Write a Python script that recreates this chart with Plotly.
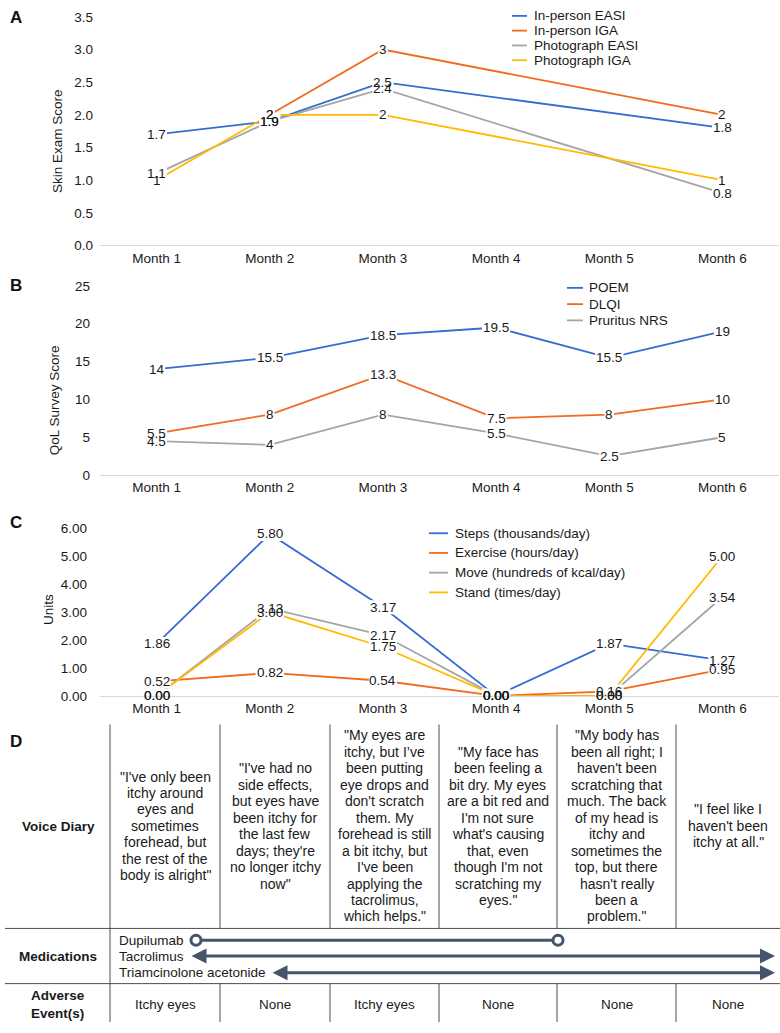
import plotly.graph_objects as go

W, H = 780, 1033
FONT = "Liberation Sans, Arial, Helvetica, sans-serif"
TXT = "#1a1a1a"

months = ["Month 1", "Month 2", "Month 3", "Month 4", "Month 5", "Month 6"]

# Panel A - skin exam scores
a_names = ["In-person EASI", "In-person IGA", "Photograph EASI", "Photograph IGA"]
a_inperson_easi = [1.7, 1.9, 2.5, None, None, 1.8]
a_inperson_iga = [None, 2, 3, None, None, 2]
a_photo_easi = [1.1, 1.9, 2.4, None, None, 0.8]
a_photo_iga = [1, 2, 2, None, None, 1]

# Panel B - QoL survey scores
b_names = ["POEM", "DLQI", "Pruritus NRS"]
b_poem = [14, 15.5, 18.5, 19.5, 15.5, 19]
b_dlqi = [5.5, 8, 13.3, 7.5, 8, 10]
b_nrs = [4.5, 4, 8, 5.5, 2.5, 5]

# Panel C - activity
c_names = ["Steps (thousands/day)", "Exercise (hours/day)",
           "Move (hundreds of kcal/day)", "Stand (times/day)"]
c_steps = [1.86, 5.80, 3.17, 0.00, 1.87, 1.27]
c_exercise = [0.52, 0.82, 0.54, 0.00, 0.16, 0.95]
c_move = [0.00, 3.13, 2.17, 0.00, 0.00, 3.54]
c_stand = [0.00, 3.00, 1.75, 0.00, 0.00, 5.00]

# Panel D - table
row_labels = ["Voice Diary", "Medications", "Adverse<br>Event(s)"]
voice_diary = [
    "\"I've only been<br>itchy around<br>eyes and<br>sometimes<br>forehead, but<br>the rest of the<br>body is alright\"",
    "\"I've had no<br>side effects,<br>but eyes have<br>been itchy for<br>the last few<br>days; they're<br>no longer itchy<br>now\"",
    "\"My eyes are<br>itchy, but I\u2019ve<br>been putting<br>eye drops and<br>don't scratch<br>them. My<br>forehead is still<br>a bit itchy, but<br>I've been<br>applying the<br>tacrolimus,<br>which helps.\"",
    "\"My face has<br>been feeling a<br>bit dry. My eyes<br>are a bit red and<br>I'm not sure<br>what's causing<br>that, even<br>though I'm not<br>scratching my<br>eyes.\"",
    "\"My body has<br>been all right; I<br>haven't been<br>scratching that<br>much. The back<br>of my head is<br>itchy and<br>sometimes the<br>top, but there<br>hasn't really<br>been a<br>problem.\"",
    "\"I feel like I<br>haven't been<br>itchy at all.\"",
]
medications = ["Dupilumab", "Tacrolimus", "Triamcinolone acetonide"]
adverse_events = ["Itchy eyes", "None", "Itchy eyes", "None", "None", "None"]

colors = ["#356CD3", "#F26A1E", "#A5A5A5", "#FFBB00"]
DARK = "#44546A"
GRID = "#4d4d4d"
FS = 13.5


def px(x):
    return x / W


def py(y):
    return 1 - y / H


fig = go.Figure()
label_bgs = []
label_txt = []
annotations = []
shapes = []


def fmt_plain(v):
    return ("%g" % v)


def fmt2(v):
    return "%.2f" % v


def text_width(s):
    # approximate Liberation Sans advance widths
    w = 0.0
    for ch in s:
        w += 0.278 if ch == "." else 0.556
    return w * FS


def add_panel(series, names, xa, ya, fmt):
    for i, (vals, name) in enumerate(zip(series, names)):
        fig.add_trace(go.Scatter(
            x=months, y=vals, name=name, mode="lines",
            line=dict(color=colors[i], width=1.8),
            connectgaps=True, showlegend=False,
            xaxis=xa, yaxis=ya, hoverinfo="skip"))
    for i, vals in enumerate(series):
        for m, v in zip(months, vals):
            if v is None:
                continue
            s = fmt(v)
            hw = text_width(s) / 2 + 1
            # white knock-out behind each label (hides the line under it)
            label_bgs.append(dict(type="rect", layer="above", xref=xa, yref=ya,
                                  xsizemode="pixel", ysizemode="pixel",
                                  xanchor=m, yanchor=v, x0=-hw, x1=hw, y0=-7, y1=7,
                                  fillcolor="white", line=dict(width=0)))
            label_txt.append(dict(x=m, y=v, xref=xa, yref=ya, text=s, showarrow=False,
                                  xanchor="center", yanchor="middle", borderpad=0,
                                  font=dict(size=FS, color=TXT, family=FONT)))


add_panel([a_inperson_easi, a_inperson_iga, a_photo_easi, a_photo_iga], a_names, "x", "y", fmt_plain)
add_panel([b_poem, b_dlqi, b_nrs], b_names, "x2", "y2", fmt_plain)
add_panel([c_steps, c_exercise, c_move, c_stand], c_names, "x3", "y3", fmt2)
shapes.extend(label_bgs)
annotations.extend(label_txt)


def manual_legend(names, x_line0, x_line1, x_text, y0, dy):
    for i, n in enumerate(names):
        yy = y0 + i * dy
        shapes.append(dict(type="line", xref="paper", yref="paper",
                           x0=px(x_line0), x1=px(x_line1), y0=py(yy), y1=py(yy),
                           line=dict(color=colors[i], width=1.8)))
        annotations.append(dict(x=px(x_text), y=py(yy), xref="paper", yref="paper",
                                text=n, showarrow=False, xanchor="left", yanchor="middle",
                                font=dict(size=FS, color=TXT, family=FONT)))


manual_legend(a_names, 512, 527, 532, 9, 15)
manual_legend(b_names, 567, 583, 587, 285, 16.5)
manual_legend(c_names, 429, 448, 453, 534, 20)

xdom = [px(100), px(779)]
axis_common = dict(showgrid=False, zeroline=False, ticks="",
                   tickfont=dict(size=FS, color=TXT, family=FONT))
xaxis_common = dict(axis_common, type="category", categoryorder="array",
                    categoryarray=months, range=[-0.5, 5.5], domain=xdom,
                    showline=True, linecolor="#d9d9d9", linewidth=1)

fig.update_layout(
    width=W, height=H, autosize=False,
    margin=dict(l=0, r=0, t=0, b=0),
    paper_bgcolor="white", plot_bgcolor="white",
    font=dict(family=FONT, color=TXT),
    xaxis=dict(xaxis_common, anchor="y"),
    xaxis2=dict(xaxis_common, anchor="y2"),
    xaxis3=dict(xaxis_common, anchor="y3"),
    yaxis=dict(axis_common, anchor="x", domain=[py(242), py(10)], range=[0, 3.5],
               dtick=0.5, tickformat=".1f", ticklabelstandoff=6),
    yaxis2=dict(axis_common, anchor="x2", domain=[py(475), py(283)], range=[0, 25],
                dtick=5, ticklabelstandoff=9),
    yaxis3=dict(axis_common, anchor="x3", domain=[py(699), py(529)], range=[0, 6],
                dtick=1, tickformat=".2f", ticklabelstandoff=12),
)

# Panel letters
for letter, yy in [("A", 11), ("B", 283), ("C", 523), ("D", 745)]:
    annotations.append(dict(x=px(8), y=py(yy), xref="paper", yref="paper", text="<b>%s</b>" % letter,
                            showarrow=False, xanchor="left", yanchor="middle",
                            font=dict(size=17, color="#111", family=FONT)))

# Y titles
for title, xx, yy in [("Skin Exam Score", 57, 136), ("QoL Survey Score", 54, 399), ("Units", 48, 612)]:
    annotations.append(dict(x=px(xx), y=py(yy), xref="paper", yref="paper", text=title,
                            showarrow=False, textangle=-90, xanchor="center", yanchor="middle",
                            font=dict(size=FS, color=TXT, family=FONT)))

# ---- Table (panel D) ----
col_edges = [110, 220, 330, 439, 557, 676, 780]
col_centers = [(col_edges[i] + col_edges[i + 1]) / 2 for i in range(6)]
top, mid1, mid2, bottom = 728, 935, 991, 1030


def hline(y, x0, x1):
    shapes.append(dict(type="line", xref="paper", yref="paper", x0=px(x0), x1=px(x1),
                       y0=py(y), y1=py(y), line=dict(color=GRID, width=1)))


def vline(x, y0, y1):
    shapes.append(dict(type="line", xref="paper", yref="paper", x0=px(x), x1=px(x),
                       y0=py(y0), y1=py(y1), line=dict(color=GRID, width=1)))


hline(mid1, 5, 780)
hline(mid2, 5, 780)
vline(col_edges[0], top, bottom)
for xe in col_edges[1:-1]:
    vline(xe, top, mid1)
    vline(xe, mid2, bottom)

# Row labels
for lab, yy in zip(row_labels, [832, 963, 1012]):
    annotations.append(dict(x=px(58), y=py(yy), xref="paper", yref="paper", text="<b>%s</b>" % lab,
                            showarrow=False, xanchor="center", yanchor="middle",
                            font=dict(size=FS, color=TXT, family=FONT)))

# Voice diary: one annotation per line for tight (16.7px) leading
LH = 16.7
for c, t in zip(col_centers, voice_diary):
    lines = t.split("<br>")
    n = len(lines)
    for k, ln in enumerate(lines):
        yy = 831 + (k - (n - 1) / 2) * LH
        annotations.append(dict(x=px(c), y=py(yy), xref="paper", yref="paper", text=ln,
                                showarrow=False, xanchor="center", yanchor="middle",
                                font=dict(size=14, color=TXT, family=FONT)))

for c, t in zip(col_centers, adverse_events):
    annotations.append(dict(x=px(c), y=py(1012), xref="paper", yref="paper", text=t,
                            showarrow=False, xanchor="center", yanchor="middle",
                            font=dict(size=FS, color=TXT, family=FONT)))

med_y = [947, 963, 980]
for t, yy in zip(medications, med_y):
    annotations.append(dict(x=px(117), y=py(yy), xref="paper", yref="paper", text=t,
                            showarrow=False, xanchor="left", yanchor="middle",
                            font=dict(size=FS, color=TXT, family=FONT)))

# Dupilumab: open circles at both ends
d0, d1, r = 196, 558, 5
shapes.append(dict(type="line", xref="paper", yref="paper", x0=px(d0 + r), x1=px(d1 - r),
                   y0=py(med_y[0]), y1=py(med_y[0]), line=dict(color=DARK, width=3)))
for cx in (d0, d1):
    shapes.append(dict(type="circle", xref="paper", yref="paper",
                       x0=px(cx - r), x1=px(cx + r), y0=py(med_y[0] + r), y1=py(med_y[0] - r),
                       line=dict(color=DARK, width=3), fillcolor="white"))

# Tacrolimus and Triamcinolone: double-headed arrows
for x_start, yy in [(190, med_y[1]), (271, med_y[2])]:
    x_end = 775
    annotations.append(dict(x=px(x_end), y=py(yy), xref="paper", yref="paper",
                            ax=x_start - x_end, ay=0, axref="pixel", ayref="pixel",
                            text="", showarrow=True, arrowside="end+start",
                            arrowhead=2, startarrowhead=2, arrowsize=1, startarrowsize=1,
                            arrowwidth=3, arrowcolor=DARK, standoff=0, startstandoff=0))

fig.update_layout(annotations=annotations, shapes=shapes)
fig.write_html("out.html", config={"displayModeBar": False},
               post_script="document.body.style.margin='0';document.body.style.overflow='hidden';")
